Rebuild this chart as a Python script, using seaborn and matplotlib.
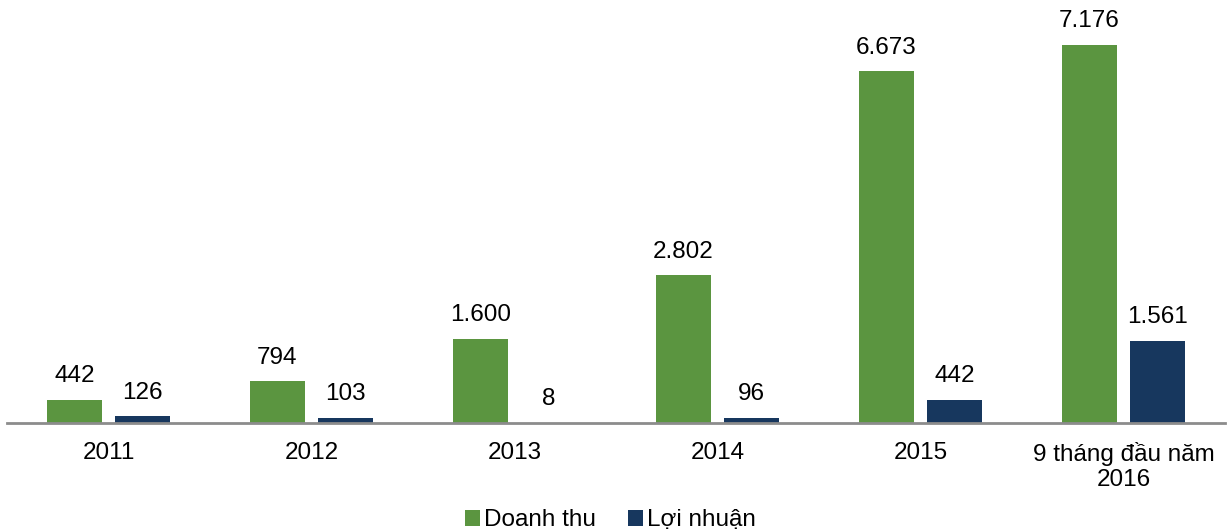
import pandas as pd
import seaborn as sns
import matplotlib.pyplot as plt
from matplotlib.patches import Patch

# chart values
periods = ["2011", "2012", "2013", "2014", "2015", "9 tháng đầu năm\n2016"]
doanh_thu = [442, 794, 1600, 2802, 6673, 7176]
loi_nhuan = [126, 103, 8, 96, 442, 1561]
series = ["Doanh thu", "Lợi nhuận"]
colours = ["#5B9540", "#17375E"]

df = pd.DataFrame({
    "period": periods * 2,
    "value": doanh_thu + loi_nhuan,
    "series": [series[0]] * len(periods) + [series[1]] * len(periods),
})

sns.set_style("white")
plt.rcParams["font.family"] = ["Liberation Sans", "DejaVu Sans"]
plt.rcParams["text.color"] = "black"
plt.rcParams["xtick.color"] = "black"

fig = plt.figure(figsize=(12.28, 5.31), dpi=100)
ax = fig.add_axes([7 / 1228, 108 / 531, 1218 / 1228, 423 / 531])

sns.barplot(
    data=df, x="period", y="value", hue="series",
    palette=colours, saturation=1, width=0.67, gap=0.2, ax=ax, legend=False,
    edgecolor="none",
)

ax.set_ylim(0, 8030)
ax.set_xlim(-0.5, len(periods) - 0.5)
for side in ["top", "right", "left"]:
    ax.spines[side].set_visible(False)
ax.spines["bottom"].set_color("#8C8C8C")
ax.spines["bottom"].set_linewidth(2)
ax.set_yticks([])
ax.set_xlabel("")
ax.set_ylabel("")
ax.tick_params(axis="x", length=0, pad=14, labelsize=17.5)
for lbl in ax.get_xticklabels():
    lbl.set_linespacing(1.15)

# value labels with dot as thousands separator
for container in ax.containers:
    labels = [f"{int(v.get_height()):,}".replace(",", ".") for v in container]
    ax.bar_label(container, labels=labels, padding=9, fontsize=17.5)

handles = [Patch(facecolor=c, edgecolor="none") for c in colours]
fig.legend(
    handles, series, loc="lower center", bbox_to_anchor=(0.497, -0.042),
    ncol=2, frameon=False, fontsize=17.5, handlelength=0.65, handleheight=0.65,
    handletextpad=0.15, columnspacing=1.3,
)

fig.savefig("out.png", dpi=100)
